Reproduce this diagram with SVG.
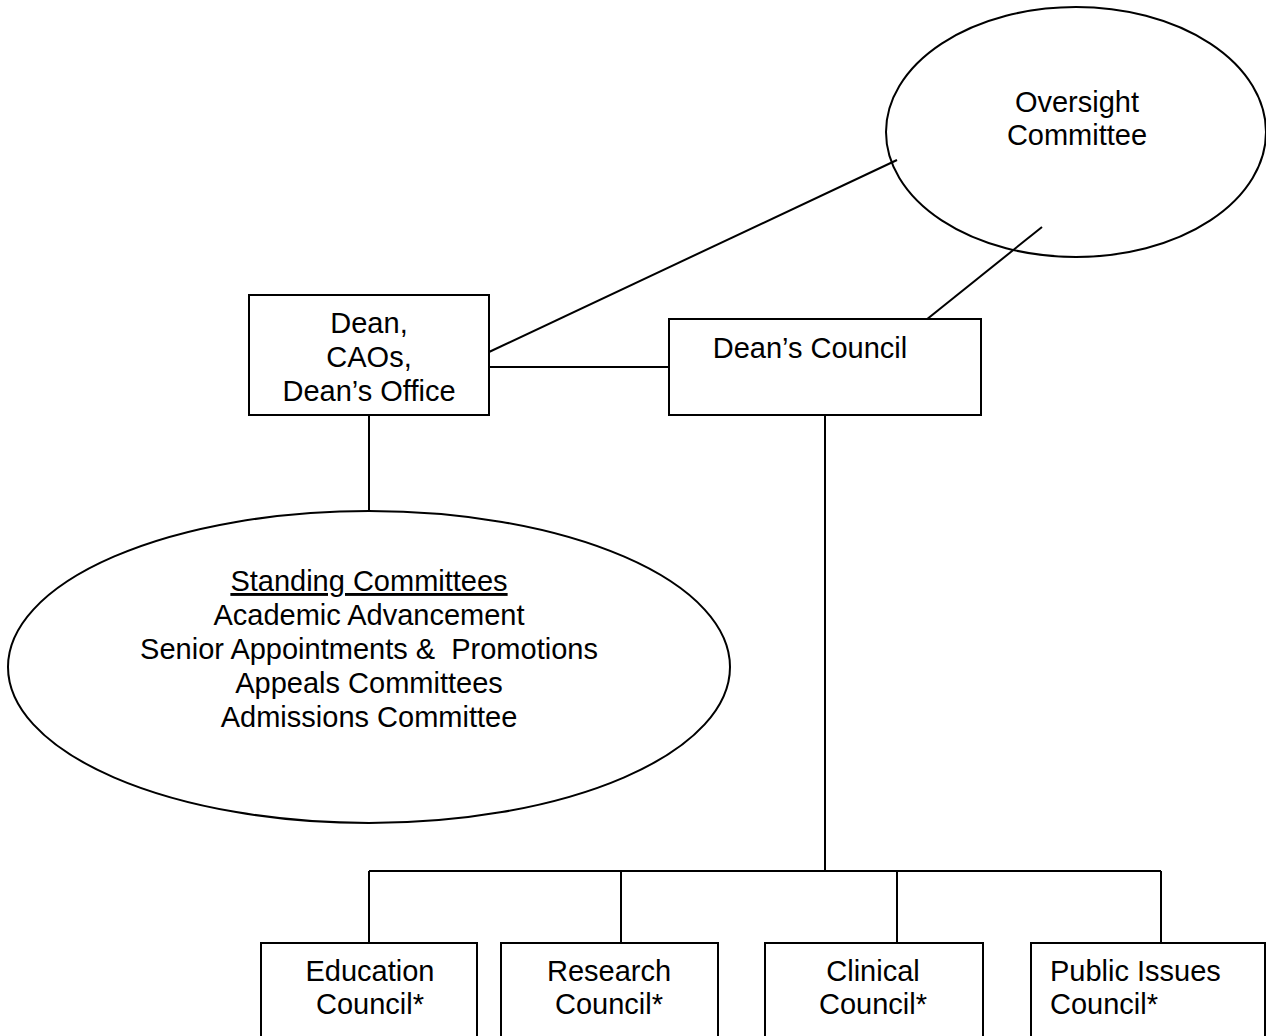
<svg xmlns="http://www.w3.org/2000/svg" width="1266" height="1036" viewBox="0 0 1266 1036">
<style>
.s{fill:none;stroke:#000;stroke-width:2}
.b{fill:#fff;stroke:#000;stroke-width:2}
text{font-family:"Liberation Sans",Arial,sans-serif;font-size:29px;fill:#000;text-anchor:middle}
</style>
<rect width="1266" height="1036" fill="#fff"/>
<g id="connectors" class="s">
<line x1="489" y1="352" x2="897" y2="160"/>
<line x1="921" y1="324" x2="1042" y2="227"/>
<line x1="489" y1="367" x2="669" y2="367"/>
<line x1="369" y1="415" x2="369" y2="511"/>
<line x1="825" y1="415" x2="825" y2="871"/>
<line x1="369" y1="871" x2="1161" y2="871"/>
<line x1="369" y1="871" x2="369" y2="943"/>
<line x1="621" y1="871" x2="621" y2="943"/>
<line x1="897" y1="871" x2="897" y2="943"/>
<line x1="1161" y1="871" x2="1161" y2="943"/>
</g>
<g id="oversight">
<ellipse class="s" cx="1076" cy="132" rx="190" ry="125"/>
<text x="1077" y="112">Oversight</text>
<text x="1077" y="145">Committee</text>
</g>
<g id="dean">
<rect class="b" x="249" y="295" width="240" height="120"/>
<text x="369" y="333">Dean,</text>
<text x="369" y="367">CAOs,</text>
<text x="369" y="401">Dean’s Office</text>
</g>
<g id="deans-council">
<rect class="b" x="669" y="319" width="312" height="96"/>
<text x="810" y="358">Dean’s Council</text>
</g>
<g id="standing">
<ellipse class="s" cx="369" cy="667" rx="361" ry="156"/>
<text x="369" y="591" text-decoration="underline">Standing Committees</text>
<text x="369" y="625">Academic Advancement</text>
<text x="369" y="659" xml:space="preserve">Senior Appointments &amp;  Promotions</text>
<text x="369" y="693">Appeals Committees</text>
<text x="369" y="727">Admissions Committee</text>
</g>
<g id="education">
<rect class="b" x="261" y="943" width="216" height="110"/>
<text x="370" y="981">Education</text>
<text x="370" y="1014">Council*</text>
</g>
<g id="research">
<rect class="b" x="501" y="943" width="217" height="110"/>
<text x="609" y="981">Research</text>
<text x="609" y="1014">Council*</text>
</g>
<g id="clinical">
<rect class="b" x="765" y="943" width="218" height="110"/>
<text x="873" y="981">Clinical</text>
<text x="873" y="1014">Council*</text>
</g>
<g id="public">
<rect class="b" x="1031" y="943" width="234" height="110"/>
<text x="1050" y="981" style="text-anchor:start">Public Issues</text>
<text x="1050" y="1014" style="text-anchor:start">Council*</text>
</g>
</svg>
